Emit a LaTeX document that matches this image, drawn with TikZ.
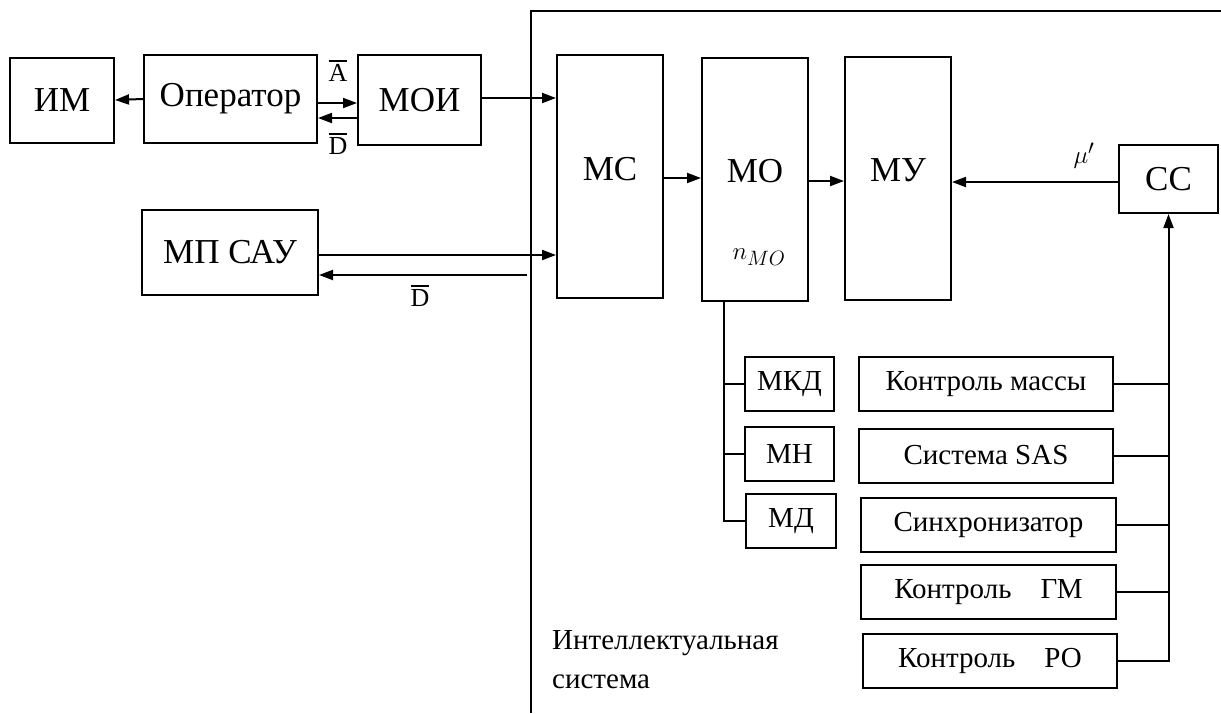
\documentclass[tikz,border=0pt]{standalone}
\usepackage{fontspec}
\setmainfont{Liberation Serif}
\usepackage{tikz}
\usetikzlibrary{positioning,arrows.meta}
\newcommand{\ovl}[1]{\vbox{\hrule height 1.6pt\kern3pt\hbox{#1}}}
\tikzset{
  blk/.style={rectangle,draw=black,line width=2pt,inner sep=0pt,
    font=\fontsize{35}{38}\selectfont},
  tallblk/.style={blk,minimum width=106pt,minimum height=243pt,text depth=16pt},
  sub/.style={rectangle,draw=black,line width=2pt,inner sep=0pt,
    minimum height=54pt,font=\fontsize{29}{32}\selectfont},
  ar/.style={-{Triangle[length=14pt,width=10pt]},line width=2pt},
  ln/.style={line width=2pt},
  lbl/.style={font=\fontsize{26}{28}\selectfont,inner sep=0pt},
}
\begin{document}
\begin{tikzpicture}[x=1pt,y=-1pt]
  \useasboundingbox (0,0) rectangle (1221,713);
  % intelligent system frame
  \draw[line width=2.4pt] (531,713) -- (531,11) -- (1221,11);
  \node[font=\fontsize{29}{39}\selectfont,align=left,anchor=north west,inner sep=0pt] (isys) at (552,630)
    {Интеллектуальная\\система};

  % left part
  \node[blk,minimum width=104pt,minimum height=85pt] (im) at (62,100) {ИМ};
  \node[blk,minimum width=173pt,minimum height=88pt] (oper) at (230.5,99) {Оператор};
  \node[blk,minimum width=123pt,minimum height=90pt] (moi) at (419.5,100) {МОИ};
  \node[blk,minimum width=176pt,minimum height=85pt] (mpsau) at (230,252.5) {МП САУ};

  % main chain
  \node[tallblk] (ms) at (610,176.5) {МС};
  \node[tallblk] (mo) at (755,179) {МО};
  \node[tallblk] (mu) at (898,178.5) {МУ};
  \node[blk,minimum width=99pt,minimum height=68pt] (cc) at (1168.5,179) {СС};
  \node[lbl,font=\fontsize{29}{32}\selectfont] (nmo) at (759,257) {$n_{MO}$};
  \node[lbl,font=\fontsize{31}{34}\selectfont] (mu1) at (1084,156) {$\mu'$};

  % modules of MO
  \node[sub,minimum width=89pt] (mkd) at (789.5,384) {МКД};
  \node[sub,minimum width=89pt] (mn) at (789.5,453.5) {МН};
  \node[sub,minimum width=90pt] (md) at (791,521) {МД};

  % control blocks
  \node[sub,minimum width=254pt] (kmass) at (986,384) {Контроль массы};
  \node[sub,minimum width=254pt] (sas) at (986,455.5) {Система SAS};
  \node[sub,minimum width=255pt] (sync) at (988.5,524.5) {Синхронизатор};
  \node[sub,minimum width=255pt] (kgm) at (988.5,592) {Контроль\ \ \ \ ГМ};
  \node[sub,minimum width=254pt] (kro) at (990,661) {Контроль\ \ \ \ РО};

  % connections on the left
  \draw[ar] (oper.west) -- (im.east);
  \draw[ar] (oper.east |- 0,103) -- (moi.west |- 0,103);
  \draw[ar] (moi.west |- 0,118) -- (oper.east |- 0,118);
  \node[lbl] (abar) at (338,71) {\ovl{A}};
  \node[lbl] (dbar1) at (338,144) {\ovl{D}};
  \draw[ar] (moi.east |- 0,98) -- (ms.west |- 0,98);
  \draw[ar] (mpsau.east |- 0,255) -- (ms.west |- 0,255);
  \coordinate (fr) at (527,275);
  \draw[ar] (fr) -- (mpsau.east |- fr);
  \node[lbl] (dbar2) at (420,296) {\ovl{D}};

  % chain arrows
  \draw[ar] (ms.east |- 0,178) -- (mo.west |- 0,178);
  \draw[ar] (mo.east |- 0,181) -- (mu.west |- 0,181);
  \draw[ar] (cc.west |- 0,182) -- (mu.east |- 0,182);

  % MO bus
  \coordinate (mobus) at (724,301);
  \draw[ln] (mobus) |- (md.west);
  \draw[ln] (mobus |- mkd.west) -- (mkd.west);
  \draw[ln] (mobus |- mn.west) -- (mn.west);

  % control bus to CC
  \draw[ar] (kro.east) -| (cc.south);
  \foreach \b in {kmass,sas,sync,kgm}
    \draw[ln] (\b.east) -- (\b.east -| cc.south);
\end{tikzpicture}
\end{document}
